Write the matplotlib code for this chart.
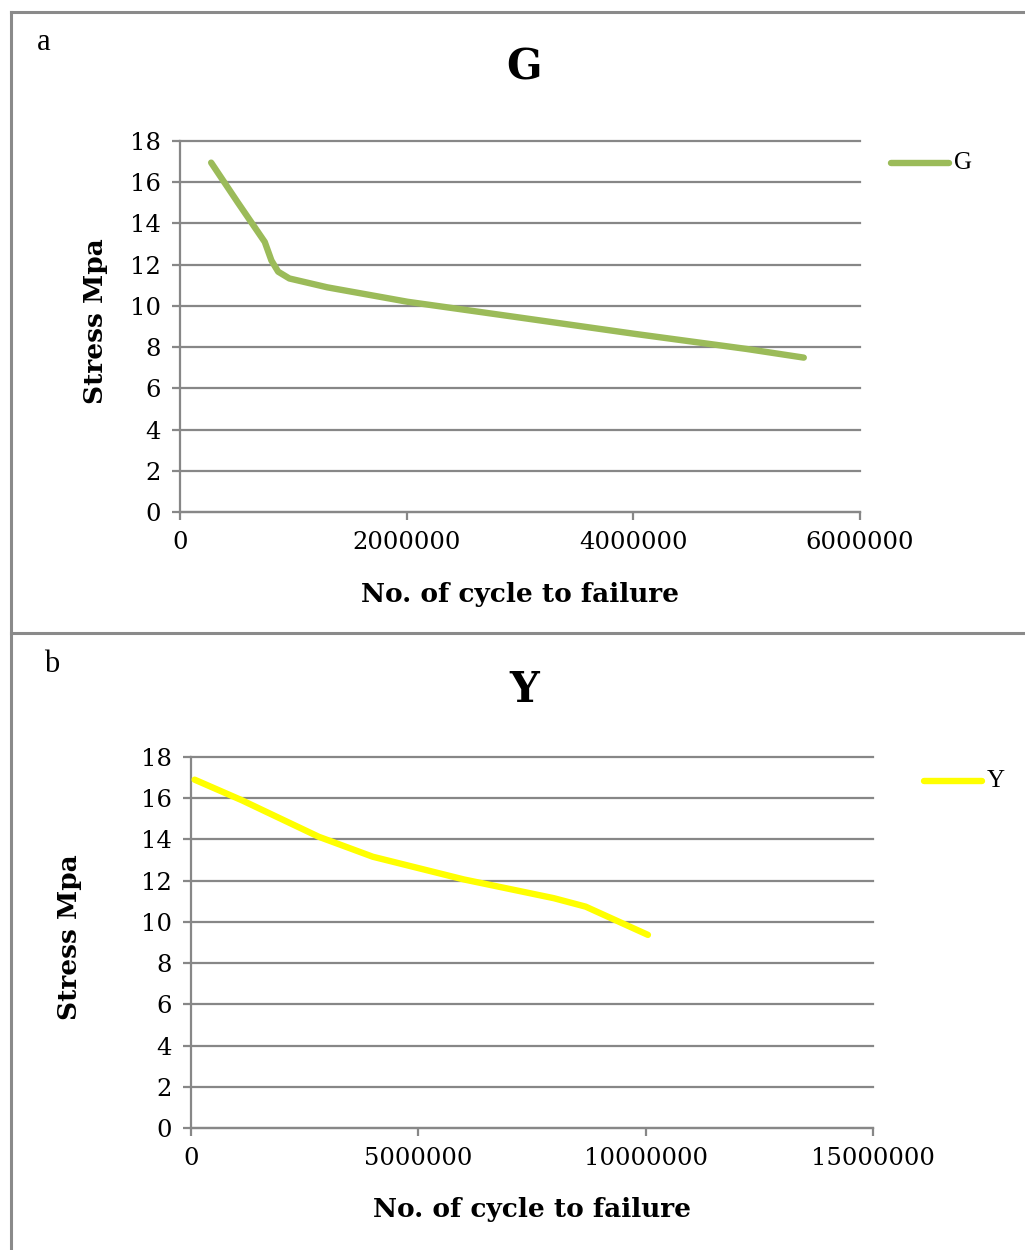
import matplotlib
matplotlib.use("Agg")
import matplotlib.pyplot as plt
from matplotlib.lines import Line2D

# ---- data ----
g_cycles = [275000, 512000, 748000, 807000, 866000, 965000, 1300000, 2008000,
            2990000, 4016000, 5000000, 5504000]
g_stress = [16.95, 15.0, 13.1, 12.2, 11.66, 11.33, 10.9, 10.2,
            9.44, 8.64, 7.91, 7.49]

y_cycles = [80000, 1120000, 2810000, 4000000, 6000000, 7980000, 8680000, 10050000]
y_stress = [16.9, 15.9, 14.13, 13.16, 12.06, 11.15, 10.74, 9.37]

y_ticks = [0, 2, 4, 6, 8, 10, 12, 14, 16, 18]
g_xticks = [0, 2000000, 4000000, 6000000]
y_xticks = [0, 5000000, 10000000, 15000000]

W, H = 1025, 1250
fig = plt.figure(figsize=(W / 100, H / 100), dpi=100)
fig.patch.set_facecolor("white")

GRID = "#878787"
SERIF = ["DejaVu Serif"]
TIMES = ["Liberation Serif"]


def fx(px):
    return px / W


def fy(py):
    return 1 - py / H


# panel borders
for (x0, y0, x1, y1) in [(11, 12, 1025, 12), (11, 12, 11, 1250), (11, 633, 1025, 633)]:
    fig.add_artist(Line2D([fx(x0), fx(x1)], [fy(y0), fy(y1)], color="#8a8a8a",
                          linewidth=2.2, transform=fig.transFigure))


def panel(rect, xs, ys, color, name, xticks, xmax, letter, letter_pos, title_y,
          ylab_x, xlab_y, leg_x, leg_y):
    l, t, r, b = rect
    ax = fig.add_axes([fx(l), fy(b), fx(r - l), (b - t) / H])
    ax.plot(xs, ys, color=color, linewidth=4.6, solid_capstyle="round",
            solid_joinstyle="round", label=name, zorder=3)
    ax.set_xlim(0, xmax)
    ax.set_ylim(0, 18)
    ax.set_yticks(y_ticks)
    ax.set_xticks(xticks)
    ax.set_xticklabels([str(v) for v in xticks])
    ax.set_yticklabels([str(v) for v in y_ticks])
    ax.grid(axis="y", color=GRID, linewidth=1.6, zorder=1)
    for gl in ax.get_ygridlines():
        gl.set_clip_on(False)
    ax.set_axisbelow(True)
    for s in ["top", "right"]:
        ax.spines[s].set_visible(False)
    for s in ["left", "bottom"]:
        ax.spines[s].set_color(GRID)
        ax.spines[s].set_linewidth(1.6)
    ax.tick_params(axis="both", colors=GRID, length=6, width=1.6, direction="out",
                   labelcolor="black", labelsize=17.5, pad=8)
    for lab in ax.get_xticklabels() + ax.get_yticklabels():
        lab.set_family(SERIF)
    # labels
    fig.text(fx(ylab_x), fy((t + b) / 2 - 5), "Stress Mpa", rotation=90,
             ha="center", va="center", fontsize=19, fontweight="bold", family=SERIF)
    fig.text(fx((l + r) / 2), fy(xlab_y), "No. of cycle to failure", ha="center",
             va="center", fontsize=19, fontweight="bold", family=SERIF)
    fig.text(fx(524), fy(title_y), name, ha="center", va="center", fontsize=30,
             fontweight="bold", family=SERIF)
    fig.text(fx(letter_pos[0]), fy(letter_pos[1]), letter, ha="center", va="center",
             fontsize=22, family=TIMES)
    # legend
    fig.add_artist(Line2D([fx(leg_x), fx(leg_x + 58)], [fy(leg_y), fy(leg_y)],
                          color=color, linewidth=4.6, solid_capstyle="round",
                          transform=fig.transFigure))
    fig.text(fx(leg_x + 63), fy(leg_y), name, ha="left", va="center", fontsize=18,
             family=TIMES)
    return ax


panel((180, 141, 860, 512), g_cycles, g_stress, "#9BBB59", "G", g_xticks, 6000000,
      "a", (44, 43), 68, 95, 594, 891, 163)
panel((191, 757, 873, 1128), y_cycles, y_stress, "#FFFF00", "Y", y_xticks, 15000000,
      "b", (52, 665), 690, 70, 1209, 924, 781)

fig.savefig("out.png", dpi=100, facecolor="white")
